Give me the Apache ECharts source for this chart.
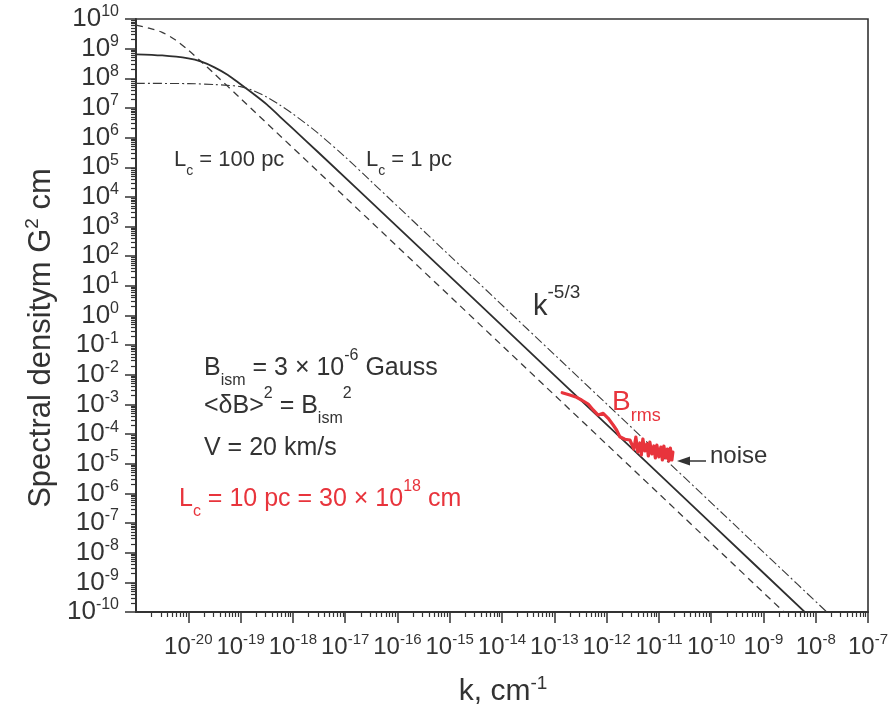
<!DOCTYPE html>
<html><head><meta charset="utf-8">
<script src="https://cdn.jsdelivr.net/npm/echarts@6/dist/echarts.min.js"></script>
<style>html,body{margin:0;padding:0;background:#fff}#c{width:892px;height:706px}</style>
</head><body><div id="c"></div>
<script>
// ---- tick labels (exponents of 10) ----
const xTickExps = [-20,-19,-18,-17,-16,-15,-14,-13,-12,-11,-10,-9,-8,-7];
const yTickExps = [-10,-9,-8,-7,-6,-5,-4,-3,-2,-1,0,1,2,3,4,5,6,7,8,9,10];
const xRangeExps = [-21, -7];
const yRangeExps = [-10, 10];

// ---- curves (log10 k, log10 S) ----
// Lc = 100 pc (dashed)
const lc100LogK = [-21.0, -20.75, -20.5, -20.25, -20.0, -19.75, -19.5, -19.0, -17.0, -14.0, -11.0, -8.5];
const lc100LogS = [9.79, 9.69, 9.55, 9.30, 8.95, 8.56, 8.15, 7.32, 3.99, -1.01, -6.01, -10.18];
// Lc = 10 pc (solid)
const lc10LogK = [-21.0, -20.5, -20.0, -19.75, -19.5, -19.25, -19.0, -18.75, -18.5, -18.25, -18.0, -17.5, -16.0, -13.0, -10.0, -8.0];
const lc10LogS = [8.81, 8.77, 8.67, 8.56, 8.37, 8.12, 7.80, 7.47, 7.12, 6.71, 6.30, 5.48, 2.99, -2.01, -7.01, -10.35];
// Lc = 1 pc (dash-dot)
const lc1LogK = [-21.0, -20.0, -19.5, -19.25, -19.0, -18.75, -18.5, -18.25, -18.0, -17.75, -17.5, -17.0, -16.5, -15.0, -12.0, -9.0, -7.5];
const lc1LogS = [7.83, 7.82, 7.79, 7.76, 7.72, 7.58, 7.37, 7.10, 6.80, 6.47, 6.12, 5.35, 4.52, 2.02, -2.98, -7.98, -10.48];
// B_rms measurement (red) incl. noise tail
const brmsLogK = [-12.849, -12.702, -12.574, -12.478, -12.352, -12.256, -12.161, -12.065, -11.969, -11.874, -11.809, -11.746, -11.650, -11.554,
  -11.516, -11.478, -11.440, -11.402, -11.363, -11.335, -11.306, -11.268, -11.229, -11.201, -11.172, -11.134, -11.096,
  -11.067, -11.038, -11.000, -10.962, -10.933, -10.904, -10.866, -10.837, -10.809, -10.780, -10.751, -10.732];
const brmsLogS = [-2.604, -2.681, -2.759, -2.850, -2.985, -3.187, -3.356, -3.298, -3.467, -3.693, -3.862, -4.088, -4.175, -4.199,
  -4.233, -4.503, -4.098, -4.604, -4.300, -4.705, -4.165, -4.570, -4.334, -4.739, -4.267, -4.671, -4.401,
  -4.806, -4.368, -4.772, -4.435, -4.874, -4.401, -4.806, -4.503, -4.907, -4.469, -4.874, -4.604];

const FF = '"Liberation Sans", Arial, Helvetica, sans-serif';
const INK = '#333333';
const RED = '#e8343c';

const p10 = e => Number('1e' + e);
const pts = (lk, ls) => lk.map((k, i) => [Math.pow(10, k), Math.pow(10, ls[i])]);
function minorTicks(e0, e1) {
  const out = [];
  for (let e = e0; e < e1; e++) for (let m = 2; m <= 9; m++) out.push(m * p10(e));
  return out;
}
const expLabel = v => '{m|10}{s|' + Math.round(Math.log10(v)) + '}';
const xTickRich = {
  m: { fontSize: 24, fontFamily: FF, color: INK, lineHeight: 30 },
  s: { fontSize: 15, fontFamily: FF, color: INK, lineHeight: 14, verticalAlign: 'top' }
};
const yTickRich = {
  m: { fontSize: 26, fontFamily: FF, color: INK, lineHeight: 30 },
  s: { fontSize: 16, fontFamily: FF, color: INK, lineHeight: 13, verticalAlign: 'top' }
};

function rs(F, color) {
  return {
    m: { fontSize: F, fontFamily: FF, fill: color, lineHeight: Math.round(F * 1.62) },
    p: { fontSize: Math.round(F * 0.64), fontFamily: FF, fill: color, lineHeight: Math.round(F * 1.03), verticalAlign: 'top' },
    b: { fontSize: Math.round(F * 0.64), fontFamily: FF, fill: color, lineHeight: Math.round(F * 0.64), verticalAlign: 'bottom' }
  };
}
function ann(x, baseline, F, color, text) {
  const L = Math.round(F * 1.62);
  return { type: 'text', x: x, y: baseline - (L / 2 + 0.35 * F), silent: true,
    style: { text: text, rich: rs(F, color), fill: color, fontSize: F, fontFamily: FF, align: 'left', verticalAlign: 'top' } };
}

const chart = echarts.init(document.getElementById('c'), null, { renderer: 'canvas' });
const baseX = { type: 'log', logBase: 10, min: p10(xRangeExps[0]), max: p10(xRangeExps[1]), gridIndex: 0, position: 'bottom', splitLine: { show: false }, minorTick: { show: false }, minorSplitLine: { show: false } };
const baseY = { type: 'log', logBase: 10, min: p10(yRangeExps[0]), max: p10(yRangeExps[1]), gridIndex: 0, position: 'left', splitLine: { show: false }, minorTick: { show: false }, minorSplitLine: { show: false } };

const option = {
  animation: false,
  backgroundColor: '#ffffff',
  grid: { left: 136, right: 24, top: 19, bottom: 94, show: true, borderColor: INK, borderWidth: 1.6, backgroundColor: 'transparent' },
  xAxis: [
    Object.assign({}, baseX, {
      axisLine: { show: true, onZero: false, lineStyle: { color: INK, width: 2 } },
      axisTick: { show: true, inside: false, length: 11, lineStyle: { color: INK, width: 1.5 }, customValues: xTickExps.map(p10) },
      axisLabel: { show: true, margin: 20, customValues: xTickExps.map(p10), formatter: expLabel, rich: xTickRich, showMinLabel: true, showMaxLabel: true }
    }),
    Object.assign({}, baseX, {
      axisLine: { show: false },
      axisTick: { show: true, inside: false, length: 5, lineStyle: { color: INK, width: 1.2 }, customValues: minorTicks(xRangeExps[0], xRangeExps[1]) },
      axisLabel: { show: false }
    })
  ],
  yAxis: [
    Object.assign({}, baseY, {
      axisLine: { show: true, onZero: false, lineStyle: { color: INK, width: 2 } },
      axisTick: { show: true, inside: false, length: 11, lineStyle: { color: INK, width: 1.5 }, customValues: yTickExps.map(p10) },
      axisLabel: { show: true, margin: 17, customValues: yTickExps.map(p10), formatter: expLabel, rich: yTickRich, showMinLabel: true, showMaxLabel: true }
    }),
    Object.assign({}, baseY, {
      axisLine: { show: false },
      axisTick: { show: true, inside: false, length: 5, lineStyle: { color: INK, width: 1.2 }, customValues: minorTicks(yRangeExps[0], yRangeExps[1]) },
      axisLabel: { show: false }
    })
  ],
  series: [
    { name: 'Lc = 100 pc', type: 'line', xAxisIndex: 0, yAxisIndex: 0, data: pts(lc100LogK, lc100LogS), smooth: 0.3, showSymbol: false, symbol: 'none',
      lineStyle: { color: '#3a3a3a', width: 1.3, type: [7, 5] }, z: 3 },
    { name: 'Lc = 10 pc', type: 'line', xAxisIndex: 0, yAxisIndex: 0, data: pts(lc10LogK, lc10LogS), smooth: 0.3, showSymbol: false, symbol: 'none',
      lineStyle: { color: '#2e2e2e', width: 1.8 }, z: 3 },
    { name: 'Lc = 1 pc', type: 'line', xAxisIndex: 0, yAxisIndex: 0, data: pts(lc1LogK, lc1LogS), smooth: 0.3, showSymbol: false, symbol: 'none',
      lineStyle: { color: '#3a3a3a', width: 1.1, type: [9, 3, 2, 3] }, z: 3 },
    { name: 'Brms', type: 'line', xAxisIndex: 0, yAxisIndex: 0, data: pts(brmsLogK, brmsLogS), smooth: false, showSymbol: false, symbol: 'none',
      lineStyle: { color: RED, width: 3.2, join: 'round', cap: 'round' }, z: 4 }
  ],
  graphic: [
    ann(174, 168, 22, INK, '{m|L}{b|c}{m| = 100 pc}'),
    ann(366, 168, 22, INK, '{m|L}{b|c}{m| = 1 pc}'),
    ann(533, 317, 29, INK, '{m|k}{p|-5/3}'),
    ann(204, 377, 25, INK, '{m|B}{b|ism}{m| = 3 × 10}{p|-6}{m| Gauss}'),
    ann(204, 415, 25, INK, '{m|<δB>}{p|2}{m| = B}{b|ism}{p|2}'),
    ann(204, 457, 25, INK, '{m|V = 20 km/s}'),
    ann(179, 508, 25, RED, '{m|L}{b|c}{m| = 10 pc = 30 × 10}{p|18}{m| cm}'),
    ann(612, 412, 28, RED, '{m|B}{b|rms}'),
    ann(710, 465, 24, INK, '{m|noise}'),
    { type: 'line', silent: true, shape: { x1: 706, y1: 461, x2: 686, y2: 461 }, style: { stroke: INK, lineWidth: 1.5 } },
    { type: 'polygon', silent: true, shape: { points: [[677, 461], [690, 456.5], [690, 465.5]] }, style: { fill: INK } },
    { type: 'text', x: 41, y: 338, rotation: Math.PI / 2, silent: true,
      style: { text: '{m|Spectral densitym G}{p|2}{m| cm}', align: 'center', verticalAlign: 'middle', fill: INK, fontSize: 31, fontFamily: FF,
        rich: { m: { fontSize: 31, fontFamily: FF, fill: INK, lineHeight: 36 }, p: { fontSize: 19, fontFamily: FF, fill: INK, lineHeight: 19, verticalAlign: 'top' } } } },
    { type: 'text', x: 503, y: 674, silent: true,
      style: { text: '{m|k, cm}{p|-1}', align: 'center', verticalAlign: 'top', fill: INK, fontSize: 30, fontFamily: FF,
        rich: { m: { fontSize: 30, fontFamily: FF, fill: INK, lineHeight: 36 }, p: { fontSize: 19, fontFamily: FF, fill: INK, lineHeight: 19, verticalAlign: 'top' } } } }
  ]
};
chart.setOption(option);
</script>
</body></html>
